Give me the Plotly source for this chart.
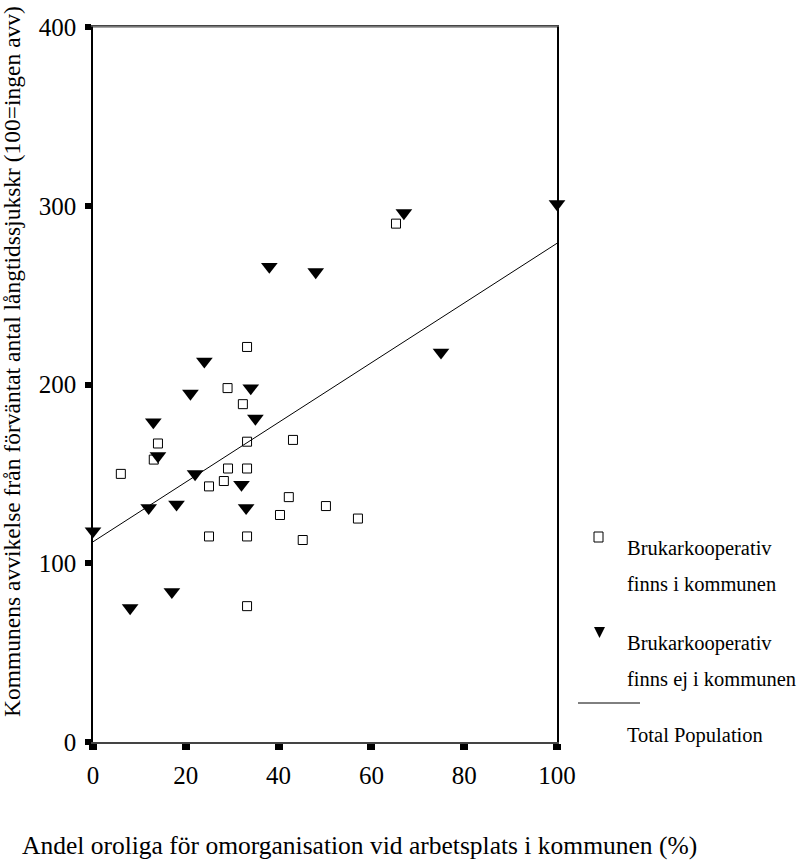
import plotly.graph_objects as go

# ---- data ----
coop_x = [29, 32.3, 14, 13.1, 6, 33.2, 43.1, 29.1, 33.2, 28.2, 25, 42.2, 40.3, 50.2, 25, 33.2, 45.2, 57.1, 33.2, 65.3, 33.2]
coop_y = [198, 189, 167, 158, 150, 168, 169, 153, 153, 146, 143, 137, 127, 132, 115, 115, 113, 125, 221, 290, 76]

nocoop_x = [38, 48, 24, 67, 100, 75, 21, 34, 35, 13, 14, 22, 32, 12, 18, 33, 0, 8, 17]
nocoop_y = [266, 263, 213, 296, 301, 218, 195, 198, 181, 179, 160, 150, 144, 131, 133, 131, 118, 75, 84]

fit_x = [0, 100]
fit_y = [112, 279]

x_ticks = [0, 20, 40, 60, 80, 100]
y_ticks = [0, 100, 200, 300, 400]

legend_labels = [
    ["Brukarkooperativ", "finns i kommunen"],
    ["Brukarkooperativ", "finns ej i kommunen"],
    ["Total Population"],
]
x_title = "Andel oroliga för omorganisation vid arbetsplats i kommunen (%)"
y_title = "Kommunens avvikelse från förväntat antal långtidssjukskr (100=ingen avv)"

# ---- layout geometry ----
W, H = 799, 861
L, R, T, B = 93, 557, 27, 742
FONT = "Liberation Serif, Times New Roman, serif"


def px2x(px):
    return (px - L) / (R - L)


def px2y(py):
    return (B - py) / (B - T)


fig = go.Figure()
fig.add_trace(go.Scatter(
    x=fit_x, y=fit_y, mode="lines",
    line=dict(color="black", width=1), showlegend=False, hoverinfo="skip"))
fig.add_trace(go.Scatter(
    x=coop_x, y=coop_y, mode="markers", cliponaxis=False,
    marker=dict(symbol="square-open", size=9, color="black", line=dict(width=1, color="black")),
    showlegend=False))
fig.add_trace(go.Scatter(
    x=nocoop_x, y=nocoop_y, mode="markers", cliponaxis=False,
    marker=dict(symbol="triangle-down", size=14.5, color="black", line=dict(width=0)),
    showlegend=False))

annotations = []
# legend texts
legend_rows = [(548, legend_labels[0][0]), (584, legend_labels[0][1]),
               (643, legend_labels[1][0]), (679, legend_labels[1][1]),
               (735, legend_labels[2][0])]
for py, txt in legend_rows:
    annotations.append(dict(
        x=px2x(625), y=px2y(py), xref="paper", yref="paper", text=txt,
        showarrow=False, xanchor="left", yanchor="middle",
        font=dict(family=FONT, size=20.5, color="black")))

annotations.append(dict(
    x=px2x(20), y=px2y(845), xref="paper", yref="paper", text=x_title,
    showarrow=False, xanchor="left", yanchor="middle",
    font=dict(family=FONT, size=25.5, color="black")))
annotations.append(dict(
    x=px2x(12), y=px2y(362), xref="paper", yref="paper", text=y_title,
    showarrow=False, xanchor="center", yanchor="middle", textangle=-90,
    font=dict(family=FONT, size=23.5, color="black")))

shapes = [
    dict(type="rect", xref="paper", yref="paper",
         x0=px2x(594), x1=px2x(603), y0=px2y(542), y1=px2y(532),
         line=dict(color="black", width=1), fillcolor="white"),
    dict(type="path", xref="paper", yref="paper",
         path="M {:.5f} {:.5f} L {:.5f} {:.5f} L {:.5f} {:.5f} Z".format(
             px2x(594), px2y(627), px2x(605), px2y(627), px2x(599.5), px2y(638)),
         line=dict(color="black", width=0), fillcolor="black"),
    dict(type="line", xref="paper", yref="paper",
         x0=px2x(578), x1=px2x(640), y0=px2y(703), y1=px2y(703),
         line=dict(color="black", width=1)),
    # gray top border
    dict(type="line", xref="paper", yref="paper", x0=0, x1=1, y0=1, y1=1,
         line=dict(color="#888888", width=1.5)),
]

fig.update_layout(
    width=W, height=H,
    margin=dict(l=L, r=W - R, t=T, b=H - B, pad=0),
    paper_bgcolor="white", plot_bgcolor="white",
    showlegend=False,
    annotations=annotations, shapes=shapes,
    xaxis=dict(range=[0, 100], tickvals=x_ticks, ticktext=[str(v) for v in x_ticks],
               showgrid=False, zeroline=False,
               showline=True, linecolor="#444444", linewidth=1.5, mirror=True,
               ticks="outside", ticklen=6, tickwidth=8, tickcolor="black",
               ticklabelstandoff=4,
               tickfont=dict(family=FONT, size=25, color="black")),
    yaxis=dict(range=[0, 400], tickvals=y_ticks, ticktext=[str(v) for v in y_ticks],
               showgrid=False, zeroline=False,
               showline=True, linecolor="black", linewidth=1.5, mirror=True,
               ticks="outside", ticklen=6, tickwidth=6, tickcolor="black",
               ticklabelstandoff=4,
               tickfont=dict(family=FONT, size=25, color="black")),
)

fig.write_html("out.html", config={"displayModeBar": False},
               post_script="document.body.style.margin='0';document.body.style.padding='0';")
